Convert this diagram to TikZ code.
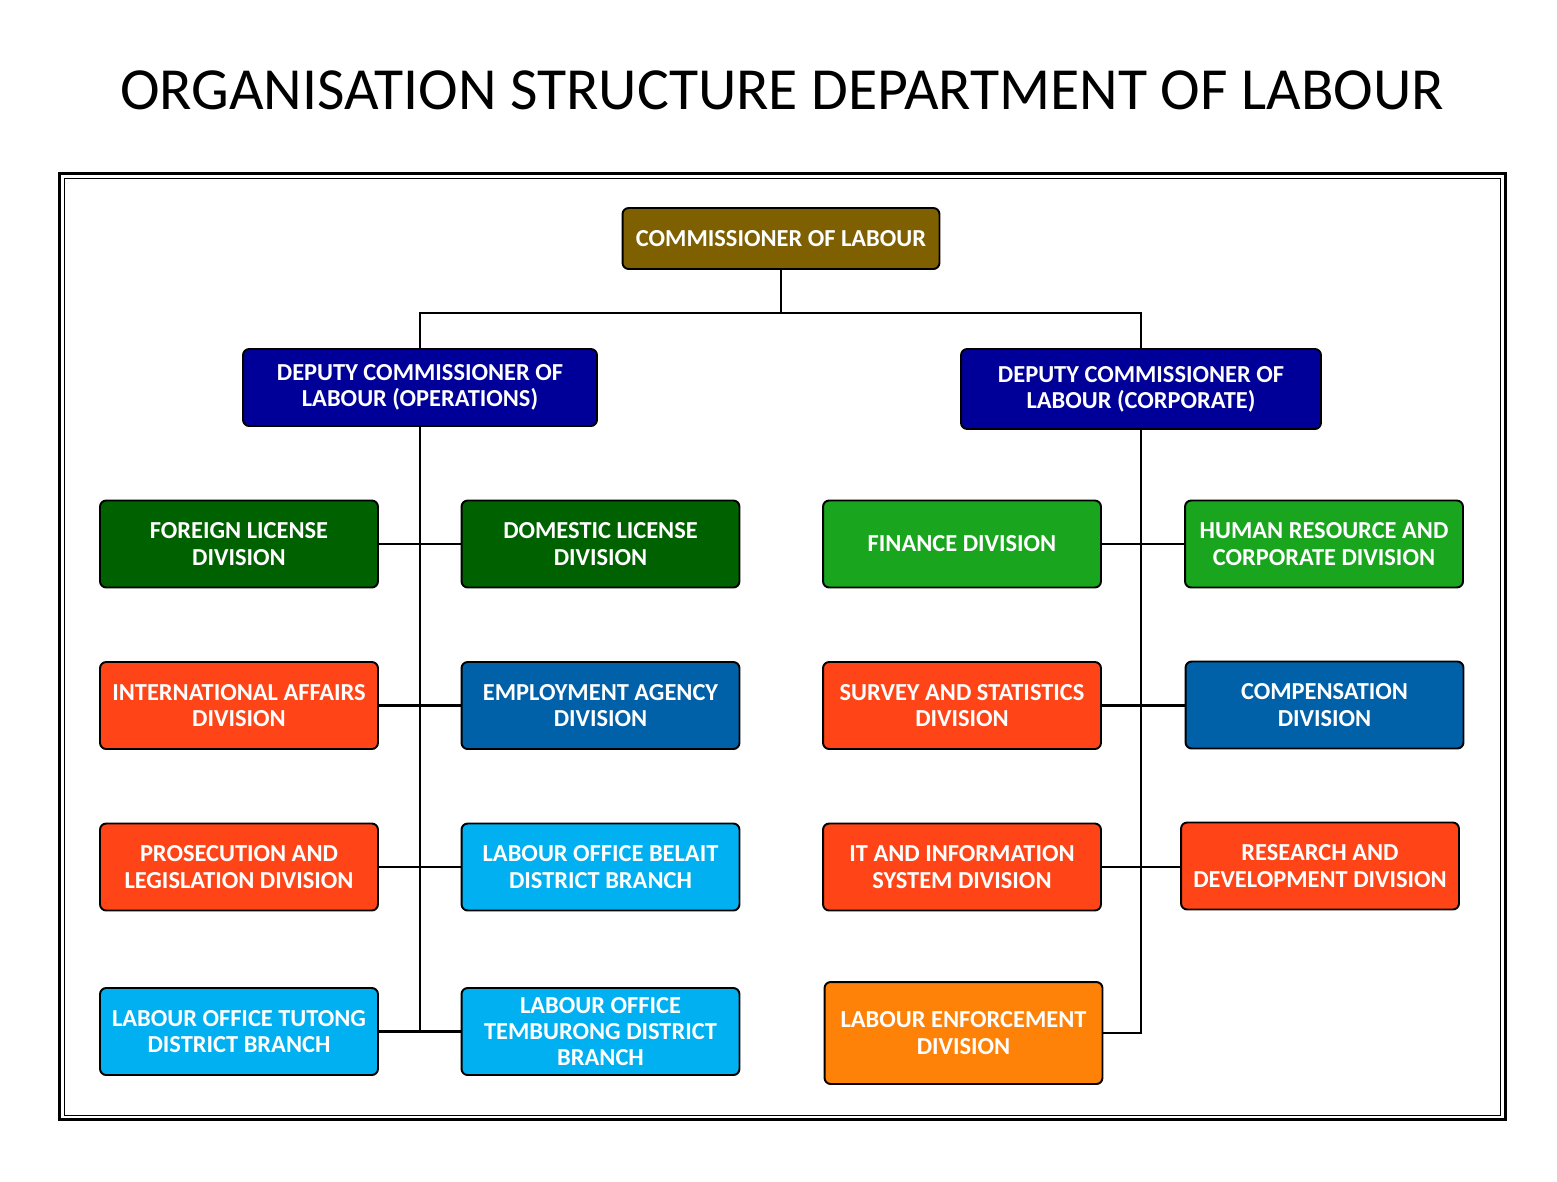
\documentclass[tikz,border=0pt]{standalone}
\usepackage{fontspec}
\setmainfont{Carlito}
\usepackage{tikz}
\usetikzlibrary{positioning}
\definecolor{Olive}{HTML}{7F6000}
\definecolor{Navy}{HTML}{000099}
\definecolor{Forest}{HTML}{006100}
\definecolor{Leaf}{HTML}{19A61E}
\definecolor{Flame}{HTML}{FF4517}
\definecolor{Ocean}{HTML}{0060A8}
\definecolor{Sky}{HTML}{00B0F0}
\definecolor{Amber}{HTML}{FF8208}

\begin{document}
\begin{tikzpicture}[x=0.02cm, y=-0.02cm,
    unit/.style={draw=black, line width=1.1pt, rounded corners=3.5pt, text=white,
      font=\fontsize{13.9}{14.9}\selectfont\bfseries, align=center, inner sep=0pt,
      minimum width=5.56cm, minimum height=1.74cm},
    link/.style={line width=1.6pt}]
    \useasboundingbox (0,0) rectangle (1557,1181);
    \node (title) at (782,90) {\fontsize{34}{37}\selectfont ORGANISATION STRUCTURE DEPARTMENT OF LABOUR};
    % frame
    \draw[line width=1.7pt] (59.5,173.5) rectangle (1505.5,1119.5);
    \draw[line width=1pt] (64.5,178.5) rectangle (1500.5,1115.5);
    % top
    \node[unit, fill=Olive, minimum width=6.34cm, minimum height=1.22cm] (comm) at (781,238.5) {COMMISSIONER OF LABOUR};
    \node[unit, fill=Navy, minimum width=7.08cm, minimum height=1.54cm] (ops) at (420,387.5) {DEPUTY COMMISSIONER OF\\LABOUR (OPERATIONS)};
    \node[unit, fill=Navy, minimum width=7.2cm, minimum height=1.6cm] (corp) at (1141,389) {DEPUTY COMMISSIONER OF\\LABOUR (CORPORATE)};
    % operations side
    \node[unit, fill=Forest] (foreign) at (239,544) {FOREIGN LICENSE\\DIVISION};
    \node[unit, fill=Forest] (domestic) at (600.5,544) {DOMESTIC LICENSE\\DIVISION};
    \node[unit, fill=Flame] (intl) at (239,705.5) {INTERNATIONAL AFFAIRS\\DIVISION};
    \node[unit, fill=Ocean] (agency) at (600.5,705.5) {EMPLOYMENT AGENCY\\DIVISION};
    \node[unit, fill=Flame] (prosec) at (239,867) {PROSECUTION AND\\LEGISLATION DIVISION};
    \node[unit, fill=Sky] (belait) at (600.5,867) {LABOUR OFFICE BELAIT\\DISTRICT BRANCH};
    \node[unit, fill=Sky] (tutong) at (239,1031.5) {LABOUR OFFICE TUTONG\\DISTRICT BRANCH};
    \node[unit, fill=Sky] (temburong) at (600.5,1031.5) {LABOUR OFFICE\\TEMBURONG DISTRICT\\BRANCH};
    % corporate side
    \node[unit, fill=Leaf] (finance) at (962,544) {FINANCE DIVISION};
    \node[unit, fill=Leaf] (hr) at (1324,544) {HUMAN RESOURCE AND\\CORPORATE DIVISION};
    \node[unit, fill=Flame] (survey) at (962,705.5) {SURVEY AND STATISTICS\\DIVISION};
    \node[unit, fill=Ocean] (comp) at (1324.5,705) {COMPENSATION\\DIVISION};
    \node[unit, fill=Flame] (infosys) at (962,867) {IT AND INFORMATION\\SYSTEM DIVISION};
    \node[unit, fill=Flame] (research) at (1320,866) {RESEARCH AND\\DEVELOPMENT DIVISION};
    \node[unit, fill=Amber, minimum height=2.04cm] (enforce) at (963.5,1033) {LABOUR ENFORCEMENT\\DIVISION};
    % connectors
    \coordinate (split) at (781,313);
    \draw[link] (comm.south) -- (split);
    \draw[link] (split) -| (ops.north);
    \draw[link] (split) -| (corp.north);
    \draw[link] (ops.south) -- (ops.south |- tutong.east);
    \draw[link] (corp.south) |- (enforce.east);
    \foreach \a/\b in {foreign/domestic, intl/agency, prosec/belait, tutong/temburong,
      finance/hr, survey/comp, infosys/research}
      \draw[link] (\a.east) -- (\a.east -| \b.west);
\end{tikzpicture}
\end{document}
